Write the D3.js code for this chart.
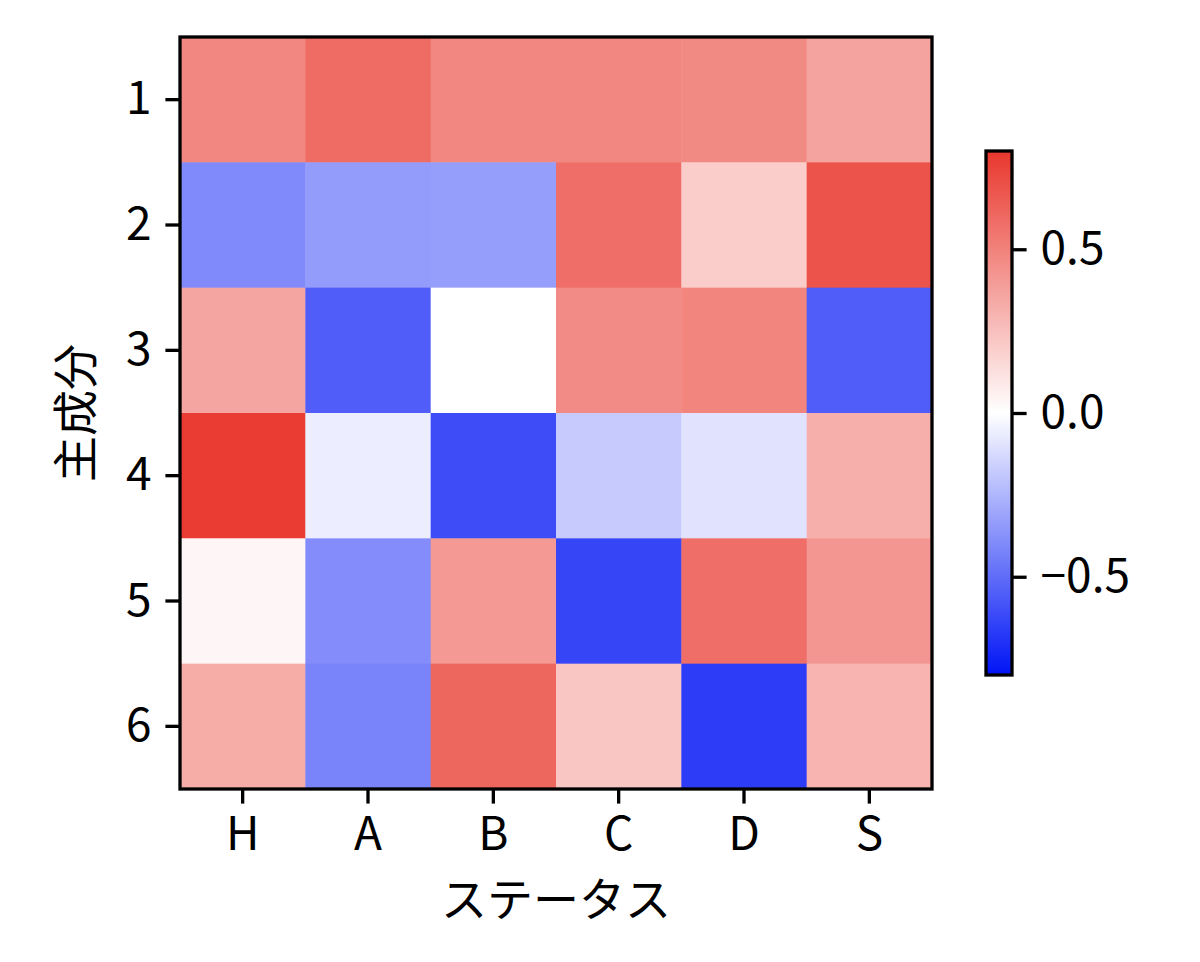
<!DOCTYPE html>
<html>
<head>
<meta charset="utf-8">
<script src="https://cdn.jsdelivr.net/npm/d3@7"></script>
<style>
  html, body { margin: 0; padding: 0; background: #fff; }
  svg { display: block; }
  text { font-family: "Noto Sans CJK JP", "Noto Sans", sans-serif; fill: #000; }
</style>
</head>
<body>
<svg id="chart" width="1200" height="962"></svg>
<script>
// ---- data ----
const components = ["1", "2", "3", "4", "5", "6"];
const stats = ["H", "A", "B", "C", "D", "S"];
const row1 = [0.48, 0.59, 0.48, 0.48, 0.47, 0.37];
const row2 = [-0.40, -0.34, -0.33, 0.58, 0.20, 0.69];
const row3 = [0.36, -0.55, 0.00, 0.465, 0.49, -0.55];
const row4 = [0.78, -0.06, -0.61, -0.18, -0.094, 0.32];
const row5 = [0.035, -0.39, 0.41, -0.63, 0.58, 0.42];
const row6 = [0.33, -0.42, 0.61, 0.23, -0.66, 0.30];
const colorTicks = [-0.5, 0.0, 0.5];
const xTitle = "ステータス";
const yTitle = "主成分";

const rows = [row1, row2, row3, row4, row5, row6];
const cells = [];
rows.forEach((r, i) => r.forEach((v, j) => cells.push({ comp: components[i], stat: stats[j], v })));

// ---- layout ----
const svg = d3.select("#chart");
const ax = { left: 180, top: 37, right: 932, bottom: 789 };
const cb = { x: 986, width: 26, top: 151, bottom: 675 };
const fontSize = 46;
const tickLen = 14.6;
const lw = 3.3;

const x = d3.scaleBand().domain(stats).range([ax.left, ax.right]).padding(0);
const y = d3.scaleBand().domain(components).range([ax.top, ax.bottom]).padding(0);

const vmin = -0.8, vmax = 0.8;
const color = d3.scaleLinear()
  .domain([vmin, 0, vmax])
  .range(["rgb(0,20,245)", "rgb(255,255,255)", "rgb(233,55,45)"])
  .interpolate(d3.interpolateRgb)
  .clamp(true);

// cells
svg.append("g").selectAll("rect").data(cells).join("rect")
  .attr("x", d => x(d.stat))
  .attr("y", d => y(d.comp))
  .attr("width", x.bandwidth() + 0.5)
  .attr("height", y.bandwidth() + 0.5)
  .attr("fill", d => color(d.v));

// frame
svg.append("rect")
  .attr("x", ax.left).attr("y", ax.top)
  .attr("width", ax.right - ax.left).attr("height", ax.bottom - ax.top)
  .attr("fill", "none").attr("stroke", "#000").attr("stroke-width", lw);

// x axis
const xAxis = d3.axisBottom(x).tickSize(tickLen).tickPadding(14);
const gx = svg.append("g").attr("transform", `translate(0,${ax.bottom})`).call(xAxis);
gx.select(".domain").remove();
gx.selectAll(".tick line").attr("stroke", "#000").attr("stroke-width", lw);
gx.selectAll(".tick text").attr("font-size", fontSize).attr("font-family", "Noto Sans CJK JP").attr("fill", "#000");

// y axis
const yAxis = d3.axisLeft(y).tickSize(tickLen).tickPadding(14);
const gy = svg.append("g").attr("transform", `translate(${ax.left},0)`).call(yAxis);
gy.select(".domain").remove();
gy.selectAll(".tick line").attr("stroke", "#000").attr("stroke-width", lw);
gy.selectAll(".tick text").attr("font-size", fontSize).attr("font-family", "Noto Sans CJK JP").attr("fill", "#000");

// axis titles
svg.append("text")
  .attr("x", (ax.left + ax.right) / 2).attr("y", 916)
  .attr("text-anchor", "middle").attr("font-size", fontSize)
  .text(xTitle);
svg.append("text")
  .attr("transform", `translate(92,${(ax.top + ax.bottom) / 2}) rotate(-90)`)
  .attr("text-anchor", "middle").attr("font-size", fontSize)
  .text(yTitle);

// colorbar
const defs = svg.append("defs");
const grad = defs.append("linearGradient").attr("id", "cbgrad")
  .attr("x1", 0).attr("y1", 1).attr("x2", 0).attr("y2", 0);
d3.range(0, 1.0001, 0.05).forEach(t => {
  grad.append("stop").attr("offset", t).attr("stop-color", color(vmin + t * (vmax - vmin)));
});
svg.append("rect")
  .attr("x", cb.x).attr("y", cb.top)
  .attr("width", cb.width).attr("height", cb.bottom - cb.top)
  .attr("fill", "url(#cbgrad)")
  .attr("stroke", "#000").attr("stroke-width", lw);

const cbScale = d3.scaleLinear().domain([vmin, vmax]).range([cb.bottom, cb.top]);
const cbAxis = d3.axisRight(cbScale).tickValues(colorTicks).tickSize(tickLen).tickPadding(14)
  .tickFormat(d => d3.format(".1f")(d).replace("-", "\u2212"));
const gc = svg.append("g").attr("transform", `translate(${cb.x + cb.width},0)`).call(cbAxis);
gc.select(".domain").remove();
gc.selectAll(".tick line").attr("stroke", "#000").attr("stroke-width", lw);
gc.selectAll(".tick text").attr("font-size", fontSize).attr("font-family", "Noto Sans CJK JP").attr("fill", "#000");
</script>
</body>
</html>
